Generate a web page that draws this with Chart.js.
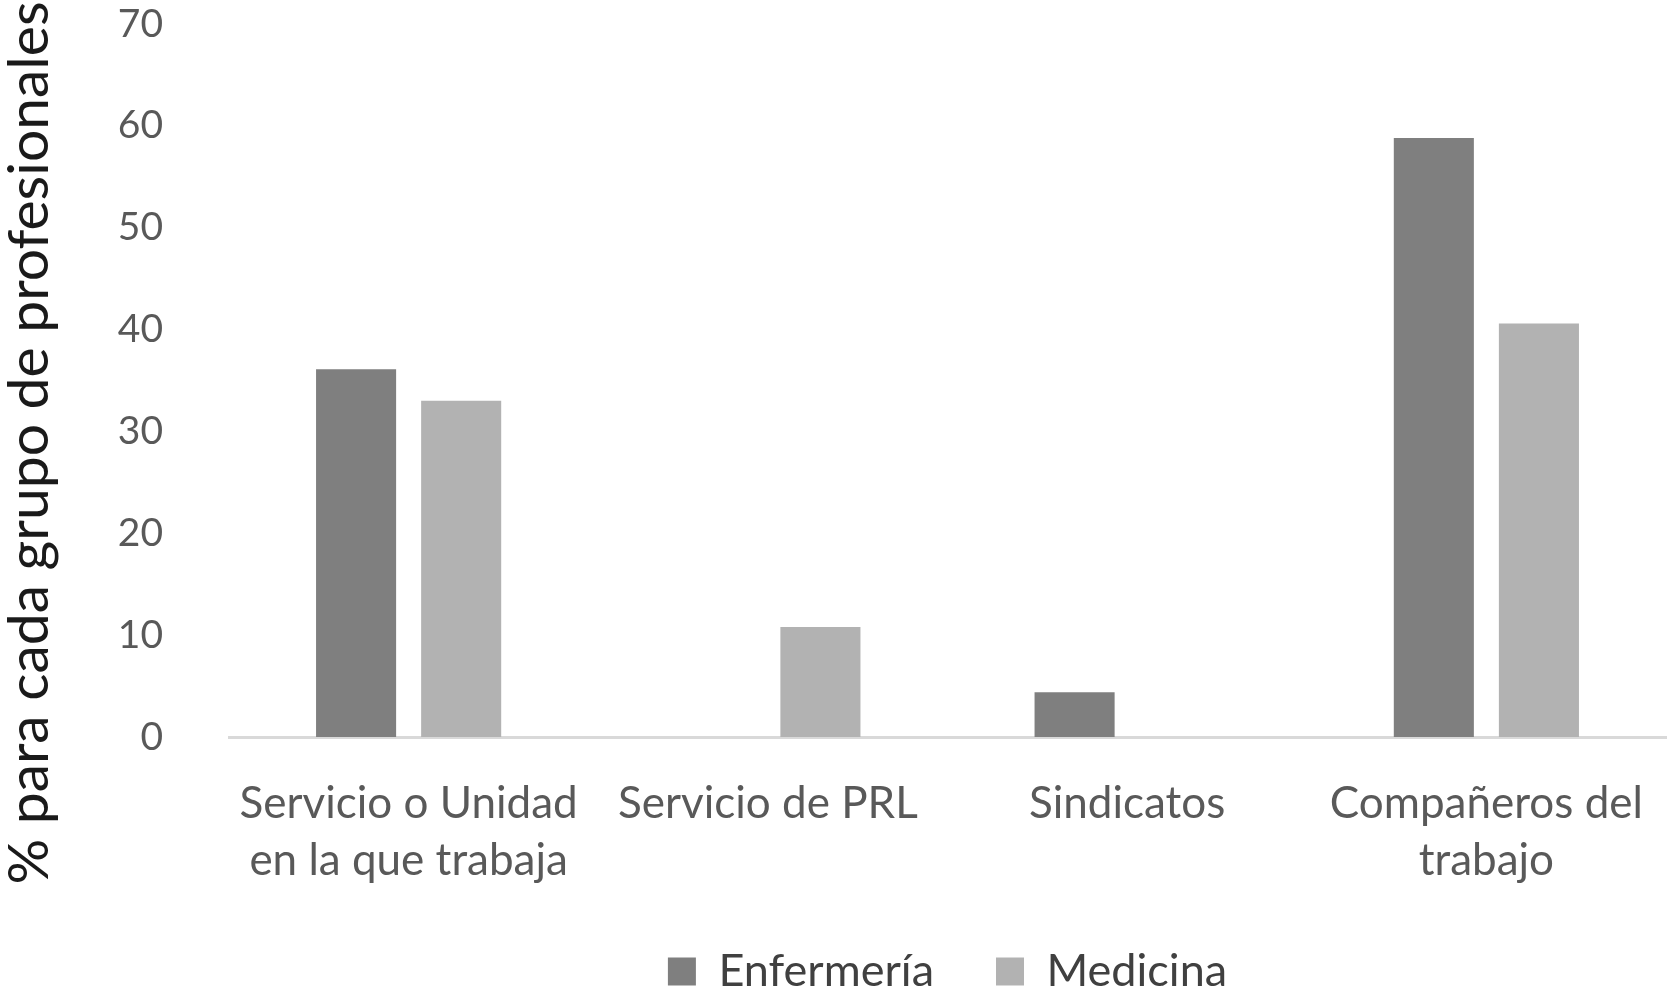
<!DOCTYPE html>
<html>
<head>
<meta charset="utf-8">
<script src="https://cdn.jsdelivr.net/npm/chart.js@4/dist/chart.umd.min.js"></script>
<style>
  html, body { margin: 0; padding: 0; background: #fff; }
  #wrap { width: 1675px; height: 988px; }
</style>
</head>
<body>
<div id="wrap"><canvas id="myChart"></canvas></div>
<script>
const categories = [
  ["Servicio o Unidad", "en la que trabaja"],
  "Servicio de PRL",
  "Sindicatos",
  ["Compañeros del", "trabajo"]
];
const enfermeria = [36.1, 0, 4.4, 58.8];
const medicina = [33.0, 10.8, 0, 40.6];
const yTitle = "% para cada grupo de profesionales";

const FONT = "Lato, 'Liberation Sans', sans-serif";

// y-axis title drawn by hand so it can sit lower than the plot centre, as in the original
const sideTitle = {
  id: "sideTitle",
  afterDraw(chart) {
    const c = chart.ctx;
    c.save();
    c.translate(30, 443);
    c.rotate(-Math.PI / 2);
    c.font = "57px " + FONT;
    c.fillStyle = "#1a1a1a";
    c.textAlign = "center";
    c.textBaseline = "middle";
    c.fillText(yTitle, 0, 0);
    c.restore();
  }
};

const ctx = document.getElementById("myChart");

new Chart(ctx, {
  type: "bar",
  data: {
    labels: categories,
    datasets: [
      { label: "Enfermería", data: enfermeria, backgroundColor: "#7f7f7f" },
      { label: "Medicina", data: medicina, backgroundColor: "#b2b2b2" }
    ]
  },
  options: {
    responsive: true,
    maintainAspectRatio: false,
    animation: false,
    datasets: { bar: { categoryPercentage: 0.585, barPercentage: 0.762 } },
    layout: { padding: { top: 0, right: 9, bottom: 0, left: 0 } },
    scales: {
      x: {
        grid: { display: false },
        border: { display: true, color: "#d9d9d9", width: 3 },
        ticks: { color: "#595959", font: { family: FONT, size: 44, lineHeight: 1.3 }, padding: 30, maxRotation: 0 },
        afterFit(s) { s.height = 150; }
      },
      y: {
        min: 0, max: 70,
        grid: { display: false },
        border: { display: false },
        ticks: { stepSize: 10, color: "#595959", font: { family: FONT, size: 39 }, padding: 58 },
        afterFit(s) { s.width = 229; s.paddingTop = 24; }
      }
    },
    plugins: {
      legend: {
        display: true,
        position: "bottom",
        fullSize: false,
        maxHeight: 101,
        labels: {
          color: "#404040",
          font: { family: FONT, size: 45 },
          boxWidth: 28, boxHeight: 28,
          padding: 62
        }
      },
      tooltip: { enabled: false }
    }
  },
  plugins: [sideTitle]
});
</script>
</body>
</html>
